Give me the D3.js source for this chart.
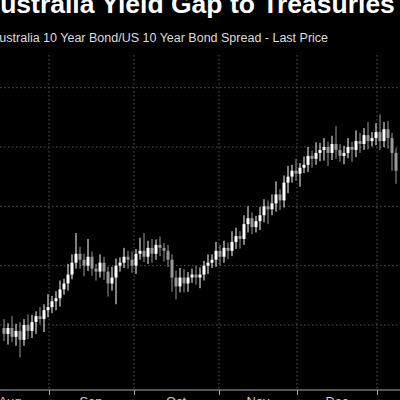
<!DOCTYPE html><html><head><meta charset="utf-8"><script src="https://cdn.jsdelivr.net/npm/d3@7"></script>
<style>body{margin:0;background:#000}svg{display:block}</style></head><body><svg width="400" height="400"></svg><script>
const closes=[-31.5,-30.5,-32,-31,-32.5,-30,-31,-29.5,-28.5,-29,-27.5,-27,-26,-25.5,-24,-23,-21.5,-19.5,-18,-19,-20,-18.5,-20.5,-21,-19.5,-21,-23,-22,-20,-19.5,-18.5,-19,-20,-18,-17.5,-18.5,-17,-18,-16.5,-17,-17.5,-19,-22,-23.5,-22,-23,-22,-21.5,-22,-21.5,-20,-19.5,-19,-17.5,-18.5,-17,-17.5,-16,-15,-15.5,-13,-12,-13.5,-12.5,-11.5,-10,-10.5,-9.5,-8,-9,-6,-5,-4,-4.5,-3.5,-3,-1.5,-2,-1,-0.5,0,-1,0.5,-0.5,-1.5,-1,0,-0.5,1,0.5,2,1,1.5,2.5,1,3,1.5,-1,-4];
const firstOpen=-30.5;
const wickUp=[1.5,0.8,2,1.2,1.5,1,1.8,1.2,0.8,1.5,1,2.2,0.9,1.2,1.5,0.8,1.8,1.4,3.5,1.2,1,3,0.9,0.8,1.4,1,0.8,1.8,1.2,0.9,1.5,1,1.4,0.8,2.2,3,1.2,1.5,0.9,1.4,0.8,1,0.9,1.2,1.6,1.4,0.9,1,1.5,1.2,0.8,1.4,0.9,1.5,1,1.2,0.9,1.8,1.4,0.8,1.5,2,1,0.9,1.4,1.2,1,1.5,2.2,0.9,1.2,1.8,1,2,0.8,1.4,1.5,0.9,1.8,1.2,1.5,0.9,1.4,3,1,1.2,1.5,0.9,1.8,1.4,1.2,2.2,1,1.5,3,1.2,1.4,0.9,0.8];
const wickDn=[1.2,1.8,0.9,1.5,3,1,1.4,1.2,2,0.9,2.2,1.2,1,1.5,1.4,0.9,1.2,0.8,1,1.5,1.8,0.9,1.2,1.5,1,1.4,2.2,1.2,4.5,1,0.9,1.5,1.2,1.4,1,0.9,1.2,1.5,1,1.4,1.8,1.2,2.4,2.2,1,1.5,1.4,0.9,1.2,1.8,1,1.4,0.9,1.2,1.5,1,1.4,0.9,1.2,1.6,1,1.4,1.2,0.9,1.5,1.2,2.5,1,1.4,1.6,1.2,1.8,1,1.2,2.2,0.9,1.2,1.5,1,1.4,1.8,2.2,1.2,1.5,1,1.4,0.9,2,1.2,1.5,1,1.4,0.9,1.2,1.5,1,1.8,3,2.2];
const monthLabels=["Aug","Sep","Oct","Nov","Dec"];
const monthLabelPos=[1.5,21.75,43,63.5,83.25];
const monthStarts=[11.25,32.5,53.75,73.25,93.25];
const yGrid=[-30,-20,-10,0,10];
const svg=d3.select("svg");
const x=d3.scaleLinear().domain([0,98]).range([4,396]);
const y=d3.scaleLinear().domain([-30,0]).range([325,147]);
const data=closes.map((c,i)=>{const o=i?closes[i-1]:firstOpen;return{i,o,c,h:Math.max(o,c)+wickUp[i],l:Math.min(o,c)-wickDn[i]};});
svg.append("g").selectAll("line").data(yGrid).join("line").attr("x1",0).attr("x2",400).attr("y1",d=>y(d)).attr("y2",d=>y(d)).attr("stroke","#555").attr("stroke-dasharray","1.5,2.5");
svg.append("g").selectAll("line").data(monthStarts).join("line").attr("x1",d=>x(d)).attr("x2",d=>x(d)).attr("y1",55).attr("y2",390).attr("stroke","#555").attr("stroke-dasharray","1.5,2.5");
const g=svg.append("g");
g.selectAll("line").data(data).join("line").attr("x1",d=>x(d.i)).attr("x2",d=>x(d.i)).attr("y1",d=>y(d.h)).attr("y2",d=>y(d.l)).attr("stroke",d=>d.c>=d.o?"#fff":"#999").attr("stroke-width",1);
g.selectAll("rect").data(data).join("rect").attr("x",d=>x(d.i)-1.5).attr("width",3).attr("y",d=>y(Math.max(d.o,d.c))).attr("height",d=>Math.max(1,Math.abs(y(d.o)-y(d.c)))).attr("fill",d=>d.c>=d.o?"#fff":"#999");
const ax=svg.append("g").attr("transform","translate(0,390)").call(d3.axisBottom(x).tickValues(monthStarts).tickFormat("").tickSize(5));
ax.select(".domain").attr("stroke","#aaa").attr("d","M0,0H400");ax.selectAll(".tick line").attr("stroke","#aaa");
svg.append("g").selectAll("text").data(monthLabels).join("text").attr("x",(d,i)=>x(monthLabelPos[i])).attr("y",406).attr("text-anchor","middle").attr("fill","#ccc").attr("font-family","Liberation Sans, Arial").attr("font-size",13).text(d=>d);
svg.append("text").attr("x",-19).attr("y",13).attr("fill","#fff").attr("font-family","Liberation Sans, Arial").attr("font-weight","bold").attr("font-size",26.5).text("Australia Yield Gap to Treasuries");
svg.append("text").attr("x",-9).attr("y",42).attr("fill","#ddd").attr("font-family","Liberation Sans, Arial").attr("font-size",12.5).text("Australia 10 Year Bond/US 10 Year Bond Spread - Last Price");
</script></body></html>
